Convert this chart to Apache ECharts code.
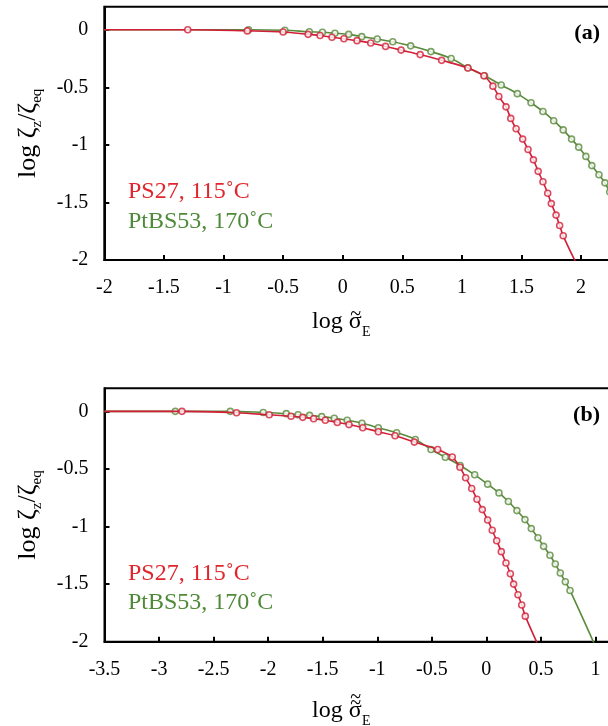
<!DOCTYPE html>
<html>
<head>
<meta charset="utf-8">
<script src="https://cdn.jsdelivr.net/npm/echarts@6/dist/echarts.min.js"></script>
<style>
  html, body { margin: 0; padding: 0; background: #fff; }
  #chart { width: 608px; height: 726px; }
</style>
</head>
<body>
<div id="chart"></div>
<script>
// Panel (a): log(zeta_z/zeta_eq) vs log of reduced stress
const ps27A_x = [-1.30, -0.80, -0.50, -0.29, -0.19, -0.09, 0.01, 0.12, 0.235, 0.36, 0.49, 0.65, 0.83, 1.05, 1.185, 1.26, 1.31, 1.37, 1.41, 1.455, 1.51, 1.555, 1.60, 1.64, 1.68, 1.72, 1.75, 1.79, 1.82, 1.85];
const ps27A_y = [0.00, -0.01, -0.02, -0.04, -0.05, -0.065, -0.078, -0.095, -0.115, -0.145, -0.177, -0.216, -0.266, -0.333, -0.40, -0.49, -0.58, -0.67, -0.77, -0.86, -0.95, -1.04, -1.13, -1.23, -1.32, -1.42, -1.51, -1.61, -1.70, -1.79];
const ps27A_fitStart = [-2, 0];
const ps27A_fitEnd = [1.96, -2.03];

const ptbs53A_x = [-0.79, -0.485, -0.28, -0.17, -0.065, 0.05, 0.16, 0.29, 0.42, 0.57, 0.74, 0.91, 1.05, 1.19, 1.33, 1.465, 1.58, 1.68, 1.77, 1.85, 1.92, 1.98, 2.04, 2.09, 2.15, 2.20, 2.24];
const ptbs53A_y = [0.00, -0.005, -0.018, -0.022, -0.03, -0.04, -0.06, -0.08, -0.105, -0.14, -0.19, -0.25, -0.33, -0.40, -0.48, -0.555, -0.634, -0.71, -0.79, -0.87, -0.95, -1.02, -1.10, -1.18, -1.26, -1.33, -1.41];
const ptbs53A_fitStart = [-2, 0];
const ptbs53A_fitEnd = [2.32, -1.56];

// Panel (b): same quantity vs log of the doubly reduced stress
const ps27B_x = [-2.79, -2.29, -1.99, -1.79, -1.683, -1.583, -1.476, -1.366, -1.259, -1.133, -0.99, -0.837, -0.66, -0.446, -0.312, -0.242, -0.19, -0.134, -0.086, -0.037, 0.012, 0.054, 0.095, 0.137, 0.18, 0.22, 0.25, 0.29, 0.324, 0.357];
const ps27B_y = [0, -0.012, -0.03, -0.043, -0.052, -0.064, -0.078, -0.096, -0.115, -0.142, -0.177, -0.212, -0.267, -0.331, -0.397, -0.485, -0.577, -0.67, -0.763, -0.853, -0.943, -1.033, -1.123, -1.218, -1.317, -1.41, -1.50, -1.593, -1.682, -1.778];
const ps27B_fitStart = [-3.5, 0];
const ps27B_fitEnd = [0.47, -2.02];

const ptbs53B_x = [-2.851, -2.347, -2.045, -1.834, -1.726, -1.62, -1.509, -1.394, -1.275, -1.14, -0.99, -0.822, -0.651, -0.507, -0.376, -0.24, -0.107, 0.012, 0.116, 0.202, 0.28, 0.354, 0.412, 0.473, 0.525, 0.583, 0.632, 0.678, 0.724, 0.767];
const ptbs53B_y = [0, 0, -0.01, -0.02, -0.03, -0.035, -0.046, -0.06, -0.078, -0.104, -0.142, -0.186, -0.244, -0.331, -0.398, -0.47, -0.551, -0.632, -0.708, -0.783, -0.862, -0.94, -1.018, -1.097, -1.172, -1.25, -1.326, -1.404, -1.48, -1.555];
const ptbs53B_fitStart = [-3.5, 0];
const ptbs53B_fitEnd = [0.99, -2.02];

// Tick values
const xTicksA = [-2, -1.5, -1, -0.5, 0, 0.5, 1, 1.5, 2];
const xTicksB = [-3.5, -3, -2.5, -2, -1.5, -1, -0.5, 0, 0.5, 1];
const yTicks = [-2, -1.5, -1, -0.5, 0];

// Legend labels
const labelPS27 = 'PS27, 115˚C';
const labelPtBS53 = 'PtBS53, 170˚C';

const FONT = 'Liberation Serif';
const RED = '#d21f38';
const GREEN = '#5a8a3c';
const RED_TEXT = '#e0262c';
const GREEN_TEXT = '#4f8a39';

function pairs(xs, ys) { return xs.map((x, i) => [x, ys[i]]); }
function fitLine(start, xs, ys, end) { return [start].concat(pairs(xs, ys), [end]); }

const axisLineStyle = { color: '#000', width: 2 };

function xAxisDef(gridIndex, min, max, ticks) {
  return {
    type: 'value', gridIndex, min, max,
    axisLine: { show: true, onZero: false, lineStyle: axisLineStyle },
    axisTick: { show: true, inside: true, length: 5, lineStyle: { color: '#000', width: 2 }, customValues: ticks },
    axisLabel: { customValues: ticks, margin: 18, fontFamily: FONT, fontSize: 20, color: '#000', formatter: v => String(v) },
    splitLine: { show: false }
  };
}

function yAxisDef(gridIndex) {
  return {
    type: 'value', gridIndex, min: -2, max: 0.2,
    axisLine: { show: true, onZero: false, lineStyle: axisLineStyle },
    axisTick: { show: true, inside: true, length: 5, lineStyle: { color: '#000', width: 2 }, customValues: yTicks },
    axisLabel: { customValues: yTicks, margin: 16, fontFamily: FONT, fontSize: 20, color: '#000', formatter: v => String(v) },
    splitLine: { show: false },
    name: '{m|log ζ}{s|z}{m|/ζ}{s|eq}',
    nameLocation: 'middle',
    nameGap: 60,
    nameTextStyle: {
      rich: {
        m: { fontFamily: FONT, fontSize: 26, lineHeight: 32, color: '#000' },
        s: { fontFamily: FONT, fontSize: 15, lineHeight: 15, color: '#000', verticalAlign: 'bottom' }
      }
    }
  };
}

function fitSeries(idx, data, color, z) {
  return {
    type: 'line', xAxisIndex: idx, yAxisIndex: idx, data,
    smooth: 0.35, showSymbol: false, symbol: 'none',
    lineStyle: { color, width: 1.6 }, z, clip: true, silent: true
  };
}
function markerSeries(idx, data, color, z) {
  return {
    type: 'scatter', xAxisIndex: idx, yAxisIndex: idx, data,
    symbol: 'circle', symbolSize: 6,
    itemStyle: { color: '#fff', borderColor: color, borderWidth: 1.6 }, z, clip: true
  };
}

function legendText(x, y, text, color) {
  return { type: 'text', left: x, top: y, style: { text, fill: color, font: '24px "' + FONT + '"' } };
}
function panelTag(y, text) {
  return { type: 'text', right: 8, top: y, style: { text, fill: '#000', font: 'bold 22px "' + FONT + '"' } };
}

// x-axis title "log σ̃_E" (tildeCount tildes stacked over sigma), laid out from measured widths
const measureCtx = document.createElement('canvas').getContext('2d');
function textWidth(text, font) { measureCtx.font = font; return measureCtx.measureText(text).width; }
function xTitle(x0, baseline, tildeCount) {
  const mainFont = '24px "' + FONT + '"';
  const subFont = '14px "' + FONT + '"';
  const tildeFont = '20px "' + FONT + '"';
  const wLog = textWidth('log ', mainFont);
  const wSig = textWidth('σ', mainFont);
  const mid = s => baseline - 0.34 * s;   // em-box middle for a given font size
  const els = [
    { type: 'text', x: x0, y: mid(24), style: { text: 'log ', font: mainFont, fill: '#000', verticalAlign: 'middle', align: 'left' } },
    { type: 'text', x: x0 + wLog, y: mid(24), style: { text: 'σ', font: mainFont, fill: '#000', verticalAlign: 'middle', align: 'left' } },
    { type: 'text', x: x0 + wLog + wSig + 0.5, y: baseline + 7 - 0.34 * 14, style: { text: 'E', font: subFont, fill: '#000', verticalAlign: 'middle', align: 'left' } }
  ];
  for (let i = 0; i < tildeCount; i++) {
    els.push({ type: 'text', x: x0 + wLog + wSig / 2 + 0.5, y: baseline - 15 - i * 6, style: { text: '~', font: tildeFont, fill: '#000', verticalAlign: 'middle', align: 'center' } });
  }
  return { type: 'group', children: els };
}

const chart = echarts.init(document.getElementById('chart'), null, { renderer: 'canvas' });
chart.setOption({
  animation: false,
  backgroundColor: '#fff',
  grid: [
    { left: 104.3, top: 6.7, width: 536.4, height: 253.3, outerBoundsMode: 'none', show: true, borderColor: '#000', borderWidth: 2, backgroundColor: 'transparent' },
    { left: 104.5, top: 388.3, width: 545.5, height: 253.4, outerBoundsMode: 'none', show: true, borderColor: '#000', borderWidth: 2, backgroundColor: 'transparent' }
  ],
  xAxis: [
    xAxisDef(0, -2, 2.5, xTicksA),
    xAxisDef(1, -3.5, 1.5, xTicksB)
  ],
  yAxis: [yAxisDef(0), yAxisDef(1)],
  series: [
    fitSeries(0, fitLine(ptbs53A_fitStart, ptbs53A_x, ptbs53A_y, ptbs53A_fitEnd), GREEN, 2),
    markerSeries(0, pairs(ptbs53A_x, ptbs53A_y), GREEN, 3),
    fitSeries(0, fitLine(ps27A_fitStart, ps27A_x, ps27A_y, ps27A_fitEnd), RED, 4),
    markerSeries(0, pairs(ps27A_x, ps27A_y), RED, 5),
    fitSeries(1, fitLine(ptbs53B_fitStart, ptbs53B_x, ptbs53B_y, ptbs53B_fitEnd), GREEN, 2),
    markerSeries(1, pairs(ptbs53B_x, ptbs53B_y), GREEN, 3),
    fitSeries(1, fitLine(ps27B_fitStart, ps27B_x, ps27B_y, ps27B_fitEnd), RED, 4),
    markerSeries(1, pairs(ps27B_x, ps27B_y), RED, 5)
  ],
  graphic: [
    legendText(128, 180, labelPS27, RED_TEXT),
    legendText(128, 210, labelPtBS53, GREEN_TEXT),
    legendText(128, 562, labelPS27, RED_TEXT),
    legendText(128, 591, labelPtBS53, GREEN_TEXT),
    panelTag(22, '(a)'),
    panelTag(404, '(b)'),
    xTitle(312, 330, 1),
    xTitle(312, 719, 2)
  ]
});
</script>
</body>
</html>
